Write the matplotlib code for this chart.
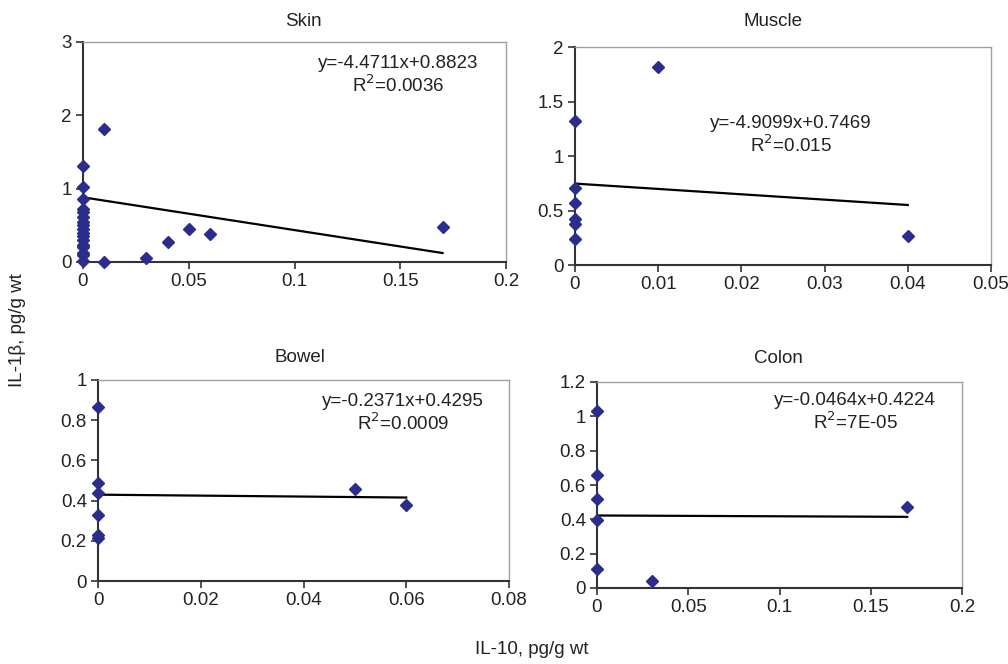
import matplotlib
matplotlib.use("Agg")
import matplotlib.pyplot as plt
import numpy as np
from matplotlib.ticker import FuncFormatter

plt.rcParams['font.family'] = ['Liberation Sans', 'DejaVu Sans']

W, H = 1008, 664

# ---- data ----
skin_x = [0]*17 + [0.01, 0.01, 0.03, 0.04, 0.05, 0.06, 0.17]
skin_y = [1.31, 1.02, 0.86, 0.72, 0.68, 0.62, 0.55, 0.50, 0.45, 0.40, 0.35, 0.30,
          0.23, 0.20, 0.12, 0.10, 0.02, 1.82, 0.0, 0.05, 0.27, 0.45, 0.38, 0.48]
skin_fit = (-4.4711, 0.8823)
skin_txt = ["y=-4.4711x+0.8823", "R$^2$=0.0036"]

muscle_x = [0, 0, 0, 0, 0, 0, 0.01, 0.04]
muscle_y = [1.32, 0.71, 0.57, 0.42, 0.38, 0.24, 1.82, 0.27]
muscle_fit = (-4.9099, 0.7469)
muscle_txt = ["y=-4.9099x+0.7469", "R$^2$=0.015"]

bowel_x = [0, 0, 0, 0, 0, 0, 0.05, 0.06]
bowel_y = [0.867, 0.488, 0.439, 0.327, 0.229, 0.213, 0.46, 0.377]
bowel_fit = (-0.2371, 0.4295)
bowel_txt = ["y=-0.2371x+0.4295", "R$^2$=0.0009"]

colon_x = [0, 0, 0, 0, 0, 0.03, 0.17]
colon_y = [1.03, 0.656, 0.517, 0.394, 0.109, 0.043, 0.472]
colon_fit = (-0.0464, 0.4224)
colon_txt = ["y=-0.0464x+0.4224", "R$^2$=7E-05"]

titles = ["Skin", "Muscle", "Bowel", "Colon"]
xticks = [np.arange(0, 0.2001, 0.05), np.arange(0, 0.05001, 0.01),
          np.arange(0, 0.08001, 0.02), np.arange(0, 0.2001, 0.05)]
yticks = [[0, 1, 2, 3], [0, 0.5, 1, 1.5, 2], [0, 0.2, 0.4, 0.6, 0.8, 1],
          [0, 0.2, 0.4, 0.6, 0.8, 1, 1.2]]

# ---- layout (pixels: left, right, top, bottom) ----
boxes = [(83, 506, 42, 262), (575, 991, 47, 265), (98, 509, 380, 581), (597, 962, 382, 588)]
text_pos = [(398, 63), (791, 123), (403, 401), (855, 400)]
title_pos = [(303, 21), (773, 21), (300, 358), (778, 359)]

FS = 13.5

fig = plt.figure(figsize=(W/100, H/100), dpi=100)
fig.patch.set_facecolor('white')

panels = [(skin_x, skin_y, skin_fit, skin_txt),
          (muscle_x, muscle_y, muscle_fit, muscle_txt),
          (bowel_x, bowel_y, bowel_fit, bowel_txt),
          (colon_x, colon_y, colon_fit, colon_txt)]

fmt = FuncFormatter(lambda v, p: ('%g' % round(v, 4)))

for i, (xs, ys, fit, txt) in enumerate(panels):
    l, r, t, b = boxes[i]
    ax = fig.add_axes([l/W, 1-b/H, (r-l)/W, (b-t)/H])
    ax.set_xlim(xticks[i][0], xticks[i][-1])
    ax.set_ylim(yticks[i][0], yticks[i][-1])
    ax.set_xticks(xticks[i])
    ax.set_yticks(yticks[i])
    ax.xaxis.set_major_formatter(fmt)
    ax.yaxis.set_major_formatter(fmt)
    ax.tick_params(direction='out', length=5, width=1.2, color='#333333',
                   labelsize=FS, labelcolor='#222222', pad=3)
    for s in ['left', 'bottom']:
        ax.spines[s].set_color('#333333')
        ax.spines[s].set_linewidth(1.5)
    for s in ['top', 'right']:
        ax.spines[s].set_color('#a0a0a0')
        ax.spines[s].set_linewidth(1.0)
    xs_a = np.array(xs, dtype=float)
    lx = np.array([xs_a.min(), xs_a.max()])
    ax.plot(lx, fit[0]*lx + fit[1], color='black', lw=1.6, zorder=3)
    ax.plot(xs, ys, linestyle='none', marker='D', markersize=6.3,
            color='#2b2d8a', clip_on=False, zorder=4)
    tx, ty = text_pos[i]
    fig.text(tx/W, 1-ty/H, txt[0], ha='center', va='center', fontsize=FS, color='#222222')
    fig.text(tx/W, 1-(ty+22)/H, txt[1], ha='center', va='center', fontsize=FS, color='#222222')
    px, py = title_pos[i]
    fig.text(px/W, 1-py/H, titles[i], ha='center', va='center', fontsize=FS, color='#222222')

fig.text(18/W, 1-330/H, "IL-1β, pg/g wt", rotation=90, ha='center', va='center',
         fontsize=FS, color='#222222')
fig.text(532/W, 1-650/H, "IL-10, pg/g wt", ha='center', va='center',
         fontsize=FS, color='#222222')

fig.savefig("out.png", dpi=100)
